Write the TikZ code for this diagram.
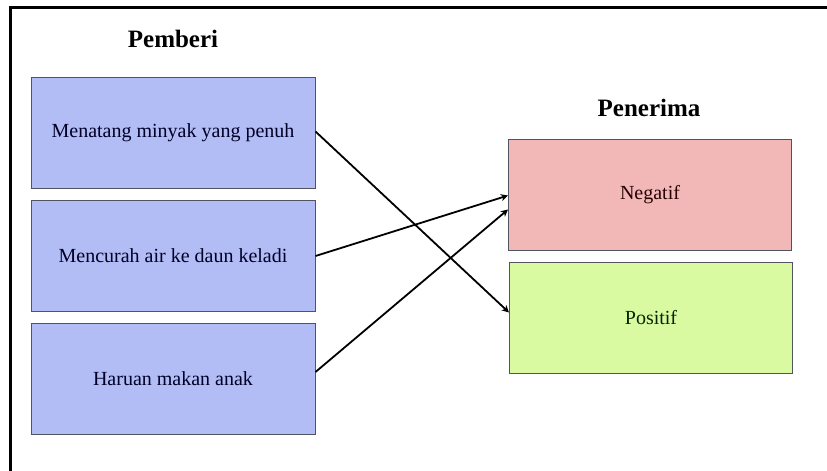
\documentclass[tikz,border=0pt]{standalone}
\usepackage{fontspec}
\setmainfont{Liberation Serif}
\usetikzlibrary{arrows.meta, positioning}
\definecolor{pemberiblue}{RGB}{178,188,245}
\definecolor{negatifpink}{RGB}{242,184,184}
\definecolor{positifgreen}{RGB}{218,250,162}
\definecolor{boxedge}{RGB}{80,84,96}

\tikzset{
  kotak/.style={draw=boxedge, line width=1pt, minimum width=284pt, minimum height=111pt,
    inner sep=0pt, font=\fontsize{20}{24}\selectfont},
  tajuk/.style={font=\fontsize{25}{30}\selectfont\bfseries},
  panah/.style={-{Stealth[length=7pt,width=7pt,inset=2pt]}, line width=1.8pt}
}

\begin{document}
\begin{tikzpicture}[x=1pt, y=-1pt]
  %bingkai
  \useasboundingbox (0,0) rectangle (827,471);
  \fill[white] (0,0) rectangle (827,471);
  \draw[line width=3pt] (827,7) -- (10,7) -- (10,471);
  %pemberi
  \node[tajuk] (pemberi) at (173,39) {Pemberi};
  \node[kotak, fill=pemberiblue, text=black!85!blue] (menatang) at (173,132.5) {Menatang minyak yang penuh};
  \node[kotak, fill=pemberiblue, text=black!85!blue] (mencurah) at (173,256) {Mencurah air ke daun keladi};
  \node[kotak, fill=pemberiblue, text=black!85!blue] (haruan) at (173,379) {Haruan makan anak};
  %penerima
  \node[tajuk] (penerima) at (649,108) {Penerima};
  \node[kotak, minimum width=283pt, fill=negatifpink, text=black!85!red] (negatif) at (650,194.5) {Negatif};
  \node[kotak, minimum width=283pt, fill=positifgreen, text=black!85!green] (positif) at (651,317.5) {Positif};
  %panah
  \draw[panah] ([yshift=1pt]menatang.east) -- ([yshift=5pt]positif.west);
  \draw[panah] (mencurah.east) -- ([yshift=-1pt]negatif.west);
  \draw[panah] ([yshift=7pt]haruan.east) -- ([yshift=-15pt]negatif.west);
\end{tikzpicture}
\end{document}
